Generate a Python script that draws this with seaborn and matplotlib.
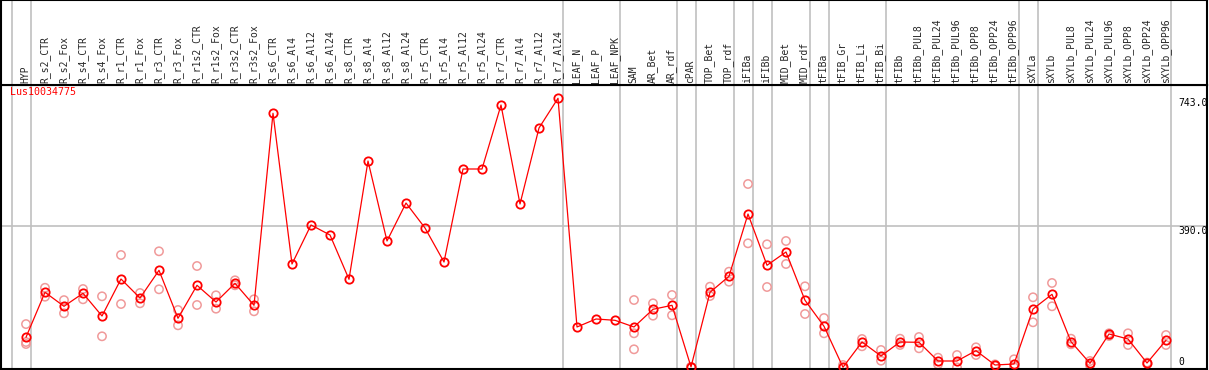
import numpy as np
import pandas as pd
import matplotlib
matplotlib.use("Agg")
import matplotlib.pyplot as plt
import seaborn as sns

nan = np.nan

gene_id = "Lus10034775"

samples = ["HYP",
           "R_s2_CTR", "R_s2_Fox", "R_s4_CTR", "R_s4_Fox", "R_r1_CTR", "R_r1_Fox",
           "R_r3_CTR", "R_r3_Fox", "R_r1s2_CTR", "R_r1s2_Fox", "R_r3s2_CTR", "R_r3s2_Fox",
           "R_s6_CTR", "R_s6_Al4", "R_s6_Al12", "R_s6_Al24",
           "R_s8_CTR", "R_s8_Al4", "R_s8_Al12", "R_s8_Al24",
           "R_r5_CTR", "R_r5_Al4", "R_r5_Al12", "R_r5_Al24",
           "R_r7_CTR", "R_r7_Al4", "R_r7_Al12", "R_r7_Al24",
           "LEAF_N", "LEAF_P", "LEAF_NPK", "SAM", "AR_Bet", "AR_rdf", "cPAR",
           "TOP_Bet", "TOP_rdf", "iFIBa", "iFIBb", "MID_Bet", "MID_rdf",
           "tFIBa", "tFIB_Gr", "tFIB_Li", "tFIB_Bi", "tFIBb",
           "tFIBb_PUL8", "tFIBb_PUL24", "tFIBb_PUL96", "tFIBb_OPP8", "tFIBb_OPP24", "tFIBb_OPP96",
           "sXYLa", "sXYLb",
           "sXYLb_PUL8", "sXYLb_PUL24", "sXYLb_PUL96", "sXYLb_OPP8", "sXYLb_OPP24", "sXYLb_OPP96"]

# mean expression per sample
means = [84.6, 208.5, 170.0, 205.8, 143.3, 245.2, 192.8, 269.1, 136.9, 227.8, 181.8, 233.3, 172.7,
         701.7, 286.5, 394.0, 366.4, 244.4, 570.2, 349.9, 454.5, 385.7, 292.0, 548.2, 548.2,
         724.5, 451.8, 661.2, 743.0,
         113.0, 135.0, 131.4, 113.0, 161.7, 172.7, 3.0, 208.5, 252.6, 424.2, 282.9, 319.6, 186.5,
         114.9, 2.0, 71.6, 33.0, 71.6, 70.8, 19.3, 19.3, 47.7, 8.3, 11.0,
         162.5, 203.0, 72.5, 12.9, 93.7, 79.9, 13.8, 76.3]

# replicates (nan where not shown)
rep1 = [121.0, 221.0, 187.0, 217.6, 197.5, 311.3, 206.6, 321.5, 159.8, 281.0, 200.3, 241.6, 189.3,
        nan, nan, nan, nan, nan, nan, nan, nan, nan, nan, nan, nan, nan, nan, nan, nan,
        nan, nan, nan, 187.3, 178.2, 201.1, 3.0, 224.0, 265.3, 506.9, 340.8, 349.9, 225.0,
        137.7, 8.3, 79.9, 49.6, 80.7, 85.4, 28.4, 35.8, 57.0, 10.0, 24.0,
        194.8, 234.2, 80.7, 19.3, 95.6, 95.6, 15.0, 90.9]
rep2 = [71.6, 196.4, 150.7, 189.3, 87.3, 176.3, 178.2, 216.8, 117.6, 173.6, 163.4, 227.8, 156.2,
        nan, nan, nan, nan, nan, nan, nan, nan, nan, nan, nan, nan, nan, nan, nan, nan,
        nan, nan, nan, 95.6, 144.1, 145.2, 3.0, 198.3, 237.7, 343.5, 223.1, 286.5, 148.8,
        95.6, 0.0, 59.8, 20.1, 63.4, 54.3, 10.2, 1.9, 35.8, 6.0, 1.9,
        125.9, 170.0, 65.3, 7.4, 88.2, 63.4, 12.0, 63.4]
rep3 = [66.1] + [nan] * 31 + [51.5] + [nan] * 28

# columns that close a tissue group (grey separators)
group_ends = [-1, 0, 28, 31, 34, 35, 37, 38, 39, 41, 42, 45, 52, 53, 60]

W, H = 1209, 370
fig = plt.figure(figsize=(W / 100, H / 100), dpi=100)
sns.set_style("white")
plt.rcParams["font.family"] = ["DejaVu Sans Mono", "DejaVu Sans"]

# pixel layout
left_px, right_px, bot_px, head_px = 1, 1207, 369, 85
ax = fig.add_axes([left_px / W, (H - bot_px) / H, (right_px - left_px) / W, (bot_px - head_px) / H])
hx = fig.add_axes([left_px / W, (H - head_px) / H, (right_px - left_px) / W, head_px / H])

step = 19.0
xmin = -(26 - left_px) / step
xmax = xmin + (right_px - left_px) / step
ax.set_xlim(xmin, xmax)
hx.set_xlim(xmin, xmax)
ax.set_ylim(-2.75, 779.6)
hx.set_ylim(0, 1)

grey = "#c0c0c0"
for g in group_ends:
    ax.axvline(g + 4.5 / step, color=grey, lw=1.2, zorder=0)
    hx.axvline(g + 4.5 / step, color=grey, lw=1.2, zorder=0)
ax.axhline(390, color=grey, lw=1.2, zorder=0)

x = np.arange(len(samples))
mean_df = pd.DataFrame({"pos": x, "value": means})
rep_df = pd.DataFrame({"pos": np.tile(x, 3), "value": rep1 + rep2 + rep3}).dropna()

sns.scatterplot(data=rep_df, x="pos", y="value", ax=ax, marker="o", s=36,
                facecolor="none", edgecolor="#f09a9a", linewidth=1.1, zorder=2, legend=False)
sns.lineplot(data=mean_df, x="pos", y="value", ax=ax, color="red", linewidth=0.9,
             marker="o", markersize=6.0, markerfacecolor="none", markeredgecolor="red",
             markeredgewidth=1.3, sort=False, zorder=3)

ax.set_xlabel("")
ax.set_ylabel("")
ax.set_xticks([])
ax.set_yticks([])
for s in ax.spines.values():
    s.set_color("black")
    s.set_linewidth(1.5)

# y value labels at the right
lab_x = 60 + (1178 - 26 - 60 * step) / step
ax.text(lab_x, 743, "743.0", fontsize=7, va="top", ha="left", color="black")
ax.text(lab_x, 390, "390.0", fontsize=7, va="top", ha="left", color="black")
ax.text(lab_x, 4, "0", fontsize=7, va="bottom", ha="left", color="black")

ax.text(xmin + 9 / step, 775, gene_id, fontsize=7.2, color="red", va="top", ha="left")

# sample names in the header
for i, name in enumerate(samples):
    hx.text(i - 0.03, 2 / head_px, name, rotation=90, fontsize=7, ha="center", va="bottom")
hx.set_xticks([])
hx.set_yticks([])
for s in hx.spines.values():
    s.set_color("black")
    s.set_linewidth(1.5)

fig.savefig("out.png", dpi=100)
